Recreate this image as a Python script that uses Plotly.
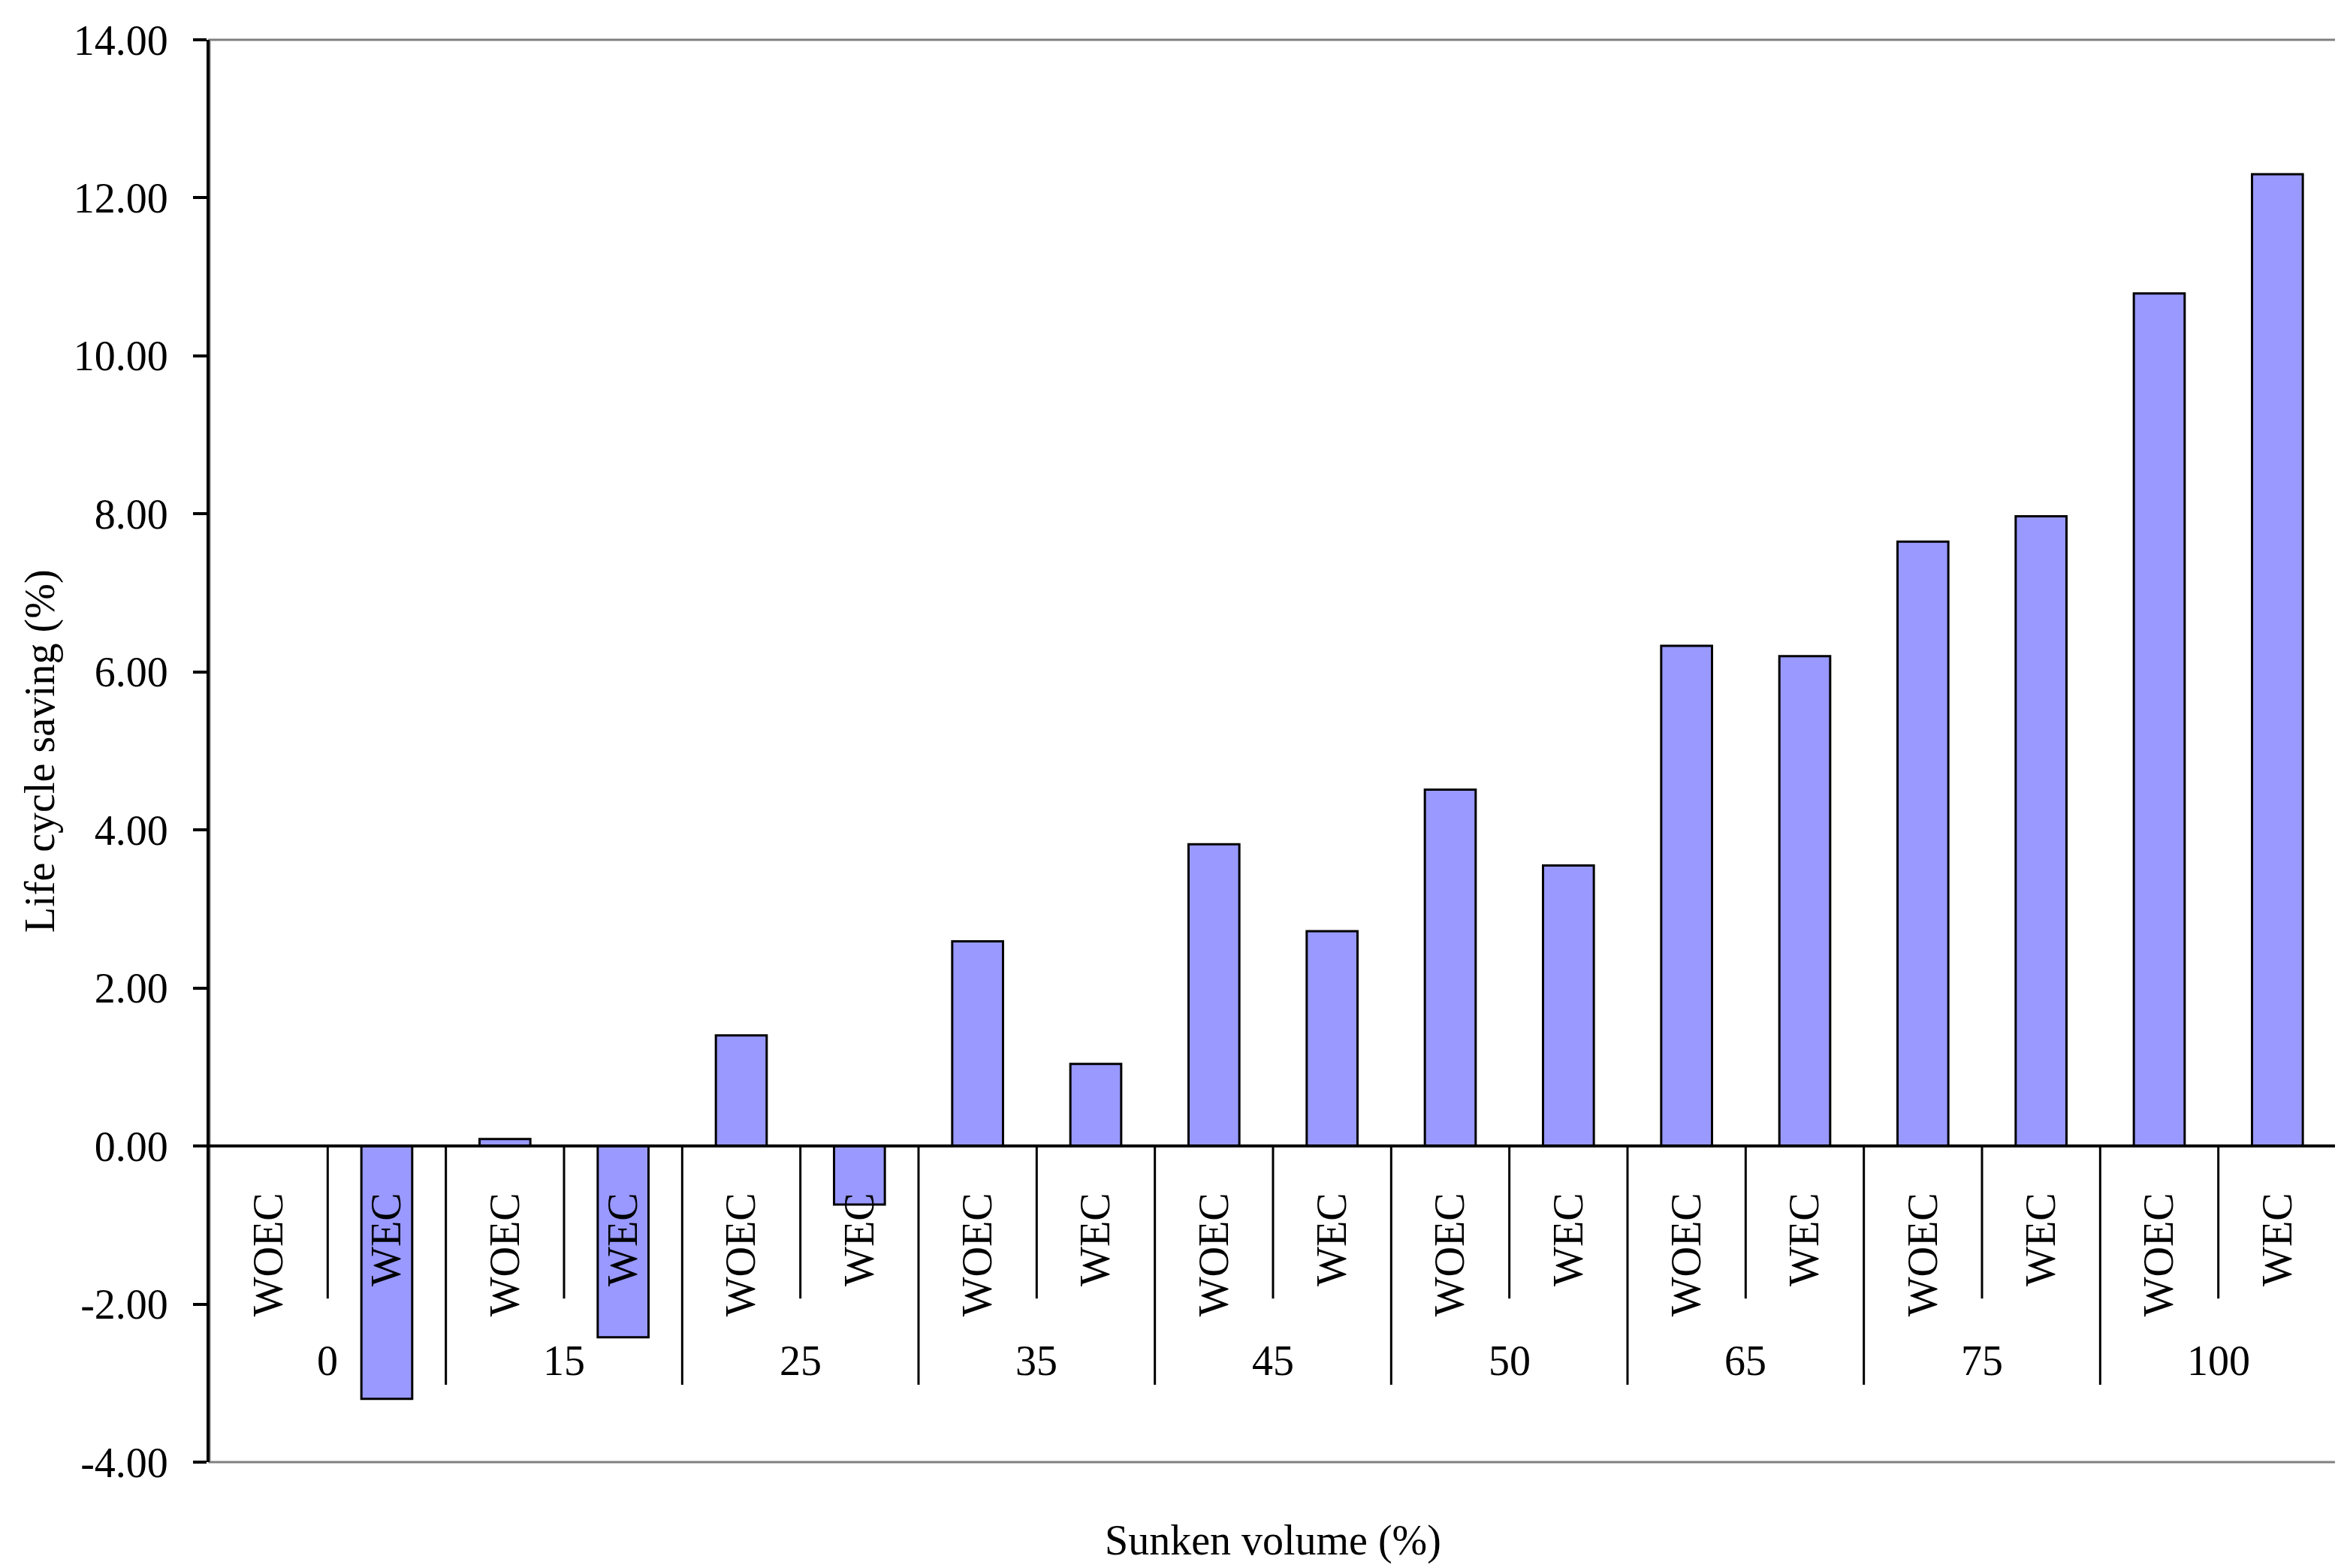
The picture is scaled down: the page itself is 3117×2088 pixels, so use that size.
import plotly.graph_objects as go

# ---- data ----
groups = ["0", "15", "25", "35", "45", "50", "65", "75", "100"]
subcats = ["WOEC", "WEC"]
woec = [0.00, 0.09, 1.40, 2.59, 3.82, 4.51, 6.33, 7.65, 10.79]
wec = [-3.20, -2.42, -0.74, 1.04, 2.72, 3.55, 6.20, 7.97, 12.30]
y_ticks = [-4, -2, 0, 2, 4, 6, 8, 10, 12, 14]
y_ticktext = [f"{v:.2f}" for v in y_ticks]

labels = []
values = []
for g, a, b in zip(groups, woec, wec):
    labels += subcats
    values += [a, b]
xpos = list(range(len(values)))

FONT = "Liberation Serif, Times New Roman, serif"
FS = 56
BAR = "#9999FF"

fig = go.Figure()
fig.add_trace(go.Bar(
    x=xpos, y=values,
    marker=dict(color=BAR, line=dict(color="black", width=3)),
    showlegend=False, hoverinfo="skip",
))

ymin, ymax = -4, 14
shapes = []
# grey plot frame
shapes.append(dict(type="rect", xref="paper", yref="paper", x0=0, x1=1, y0=0, y1=1,
                   line=dict(color="#808080", width=3), layer="below"))
# separators below the zero line
n = len(values)
for i in range(n):
    xb = i + 0.5
    long_line = (i % 2 == 1)
    shapes.append(dict(type="line", xref="x", yref="y", x0=xb, x1=xb, y0=0,
                       y1=-3.02 if long_line else -1.93,
                       line=dict(color="black", width=3 if xb < n - 0.5 else 4)))

annotations = []
for gi, g in enumerate(groups):
    annotations.append(dict(x=2 * gi + 0.5, y=-2.72, xref="x", yref="y", text=g,
                            showarrow=False, font=dict(family=FONT, size=FS, color="black"),
                            xanchor="center", yanchor="middle"))
annotations.append(dict(x=0, y=0.5, xref="paper", yref="paper", xshift=-226,
                        text="Life cycle saving (%)", textangle=-90, showarrow=False,
                        font=dict(family=FONT, size=FS, color="black"),
                        xanchor="center", yanchor="middle"))
annotations.append(dict(x=0.5, y=0, xref="paper", yref="paper", yshift=-104,
                        text="Sunken volume (%)", showarrow=False,
                        font=dict(family=FONT, size=FS, color="black"),
                        xanchor="center", yanchor="middle"))

fig.update_layout(
    width=3117, height=2088,
    margin=dict(l=271, r=14, t=45, b=149, autoexpand=False),
    paper_bgcolor="white", plot_bgcolor="white",
    bargap=0.57,
    font=dict(family=FONT, size=FS, color="black"),
    shapes=shapes, annotations=annotations,
    xaxis=dict(
        range=[-0.5, n - 0.5], anchor="free", position=(0 - ymin) / (ymax - ymin),
        tickmode="array", tickvals=xpos, ticktext=labels, tickangle=-90,
        ticks="", ticklabelstandoff=38, automargin=False,
        showline=True, linecolor="black", linewidth=4,
        showgrid=False, zeroline=False,
        tickfont=dict(family=FONT, size=FS, color="black"),
    ),
    yaxis=dict(
        range=[ymin, ymax], tickmode="array", tickvals=y_ticks, ticktext=y_ticktext,
        ticks="outside", ticklen=18, tickwidth=4, tickcolor="black",
        ticklabelstandoff=22, automargin=False,
        showline=True, linecolor="black", linewidth=4,
        showgrid=False, zeroline=False,
        tickfont=dict(family=FONT, size=FS, color="black"),
    ),
)

fig.write_html("out.html")
